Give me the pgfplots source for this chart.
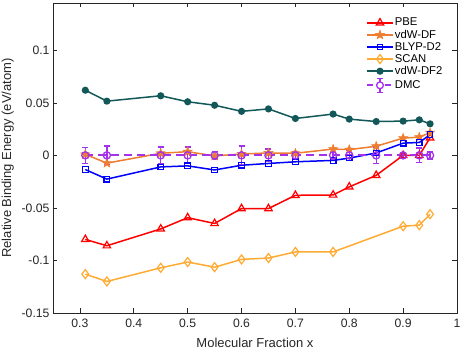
\documentclass[border=0pt]{standalone}
\usepackage{fontspec}
\setmainfont{Liberation Sans}
\usepackage{pgfplots}
\pgfplotsset{compat=1.18}
\definecolor{pbe}{RGB}{255,0,0}
\definecolor{vdwdf}{RGB}{237,125,49}
\definecolor{blyp}{RGB}{0,0,255}
\definecolor{scan}{RGB}{255,170,50}
\definecolor{vdwdftwo}{RGB}{18,88,88}
\definecolor{dmc}{RGB}{165,50,235}
% filled five-pointed star
\pgfdeclareplotmark{fstar}{%
  \pgfpathmoveto{\pgfpointpolar{90}{\pgfplotmarksize}}%
  \pgfpathlineto{\pgfpointpolar{126}{0.42\pgfplotmarksize}}%
  \pgfpathlineto{\pgfpointpolar{162}{\pgfplotmarksize}}%
  \pgfpathlineto{\pgfpointpolar{198}{0.42\pgfplotmarksize}}%
  \pgfpathlineto{\pgfpointpolar{234}{\pgfplotmarksize}}%
  \pgfpathlineto{\pgfpointpolar{270}{0.42\pgfplotmarksize}}%
  \pgfpathlineto{\pgfpointpolar{306}{\pgfplotmarksize}}%
  \pgfpathlineto{\pgfpointpolar{342}{0.42\pgfplotmarksize}}%
  \pgfpathlineto{\pgfpointpolar{18}{\pgfplotmarksize}}%
  \pgfpathlineto{\pgfpointpolar{54}{0.42\pgfplotmarksize}}%
  \pgfpathclose
  \pgfusepathqfillstroke}
\pgfplotstableread{
x     dmc  err
0.31  0    0.0077
0.35  0    0.009
0.45  0    0.008
0.5   0    0.008
0.55  0    0.0035
0.6   0    0.009
0.65  0    0.006
0.7   0    0.0035
0.77  0    0.004
0.8   0    0.005
0.85  0    0.008
0.9   0    0.003
0.93  0    0.007
0.95  0    0.0035
}\dmctable
\begin{document}
\begin{tikzpicture}
\useasboundingbox (0,0) rectangle (467pt,350pt);
\begin{axis}[
  at={(53pt,37pt)}, anchor=south west,
  scale only axis,
  width=404pt, height=310pt,
  xmin=0.25, xmax=1, ymin=-0.15, ymax=0.145,
  xtick={0.3,0.4,...,0.9,1},
  ytick={-0.15,-0.1,-0.05,0,0.05,0.1},
  yticklabels={-0.15,-0.1,-0.05,0,0.05,0.1},
  xticklabels={0.3,0.4,0.5,0.6,0.7,0.8,0.9,1},
  tick align=inside,
  major tick length=4.5pt,
  tick style={black!85, line width=0.6pt},
  axis line style={black!85, line width=0.6pt},
  tick label style={font=\fontsize{12.2}{14}\selectfont, text=black!85},
  xticklabel style={yshift=-2.5pt},
  label style={font=\fontsize{13}{15}\selectfont, text=black!85},
  xlabel={Molecular Fraction x},
  ylabel={Relative Binding Energy (eV/atom)},
  xlabel style={at={(axis description cs:0.5,-0.095)}, anchor=center},
  ylabel style={at={(axis description cs:-0.112,0.5)}, anchor=center},
  legend style={draw=none, fill=none, at={(axis description cs:0.772,0.958)}, anchor=north west,
    font=\fontsize{11.3}{13}\selectfont, row sep=0.6pt, inner sep=1pt,
    nodes={inner sep=1pt}},
  legend cell align=left,
  legend image code/.code={\draw[mark repeat=2, mark phase=2]
    plot coordinates {(0pt,0pt) (13pt,0pt) (26pt,0pt)};},
]
\addplot[color=pbe, line width=1.5pt, mark=triangle, mark size=4.3pt, mark options={fill=none, line width=1.2pt}] coordinates {
 (0.31,-0.080) (0.35,-0.086) (0.45,-0.070) (0.5,-0.0593) (0.55,-0.0648) (0.6,-0.0506)
 (0.65,-0.0506) (0.7,-0.038) (0.77,-0.0377) (0.8,-0.030) (0.85,-0.019) (0.9,0.0)
 (0.93,0.0) (0.95,0.0167)};
\addlegendentry{PBE}
\addplot[color=vdwdf, line width=1.5pt, mark=fstar, mark size=4.8pt, mark options={fill=vdwdf, line width=0.5pt}] coordinates {
 (0.31,0.001) (0.35,-0.0074) (0.45,0.002) (0.5,0.0035) (0.55,-0.0005) (0.6,0.0013)
 (0.65,0.0023) (0.7,0.002) (0.77,0.006) (0.8,0.0055) (0.85,0.0087) (0.9,0.0164)
 (0.93,0.0174) (0.95,0.0216)};
\addlegendentry{vdW-DF}
\addplot[color=blyp, line width=1.5pt, mark=square, mark size=2.8pt, mark options={fill=none, line width=1.2pt}] coordinates {
 (0.31,-0.0135) (0.35,-0.0226) (0.45,-0.011) (0.5,-0.010) (0.55,-0.0139) (0.6,-0.0094)
 (0.65,-0.0077) (0.7,-0.0061) (0.77,-0.0048) (0.8,-0.0026) (0.85,0.0023) (0.9,0.0116)
 (0.93,0.0123) (0.95,0.0197)};
\addlegendentry{BLYP-D2}
\addplot[color=scan, line width=1.5pt, mark=diamond, mark size=4.5pt, mark options={fill=none, line width=1.2pt}] coordinates {
 (0.31,-0.113) (0.35,-0.120) (0.45,-0.107) (0.5,-0.1015) (0.55,-0.1064) (0.6,-0.099)
 (0.65,-0.0977) (0.7,-0.0919) (0.77,-0.0919) (0.9,-0.0674) (0.93,-0.0664) (0.95,-0.056)};
\addlegendentry{SCAN}
\addplot[color=vdwdftwo, line width=1.5pt, mark=*, mark size=2.8pt] coordinates {
 (0.31,0.062) (0.35,0.0516) (0.45,0.0567) (0.5,0.051) (0.55,0.0477) (0.6,0.0419)
 (0.65,0.0442) (0.7,0.0351) (0.77,0.0393) (0.8,0.0345) (0.85,0.0322) (0.9,0.0326)
 (0.93,0.0338) (0.95,0.030)};
\addlegendentry{vdW-DF2}
% DMC error bars only
\addplot[forget plot, draw=none, mark=none, color=dmc,
  error bars/.cd, y dir=both, y explicit,
  error bar style={color=dmc, solid, line width=1.3pt},
  error mark options={color=dmc, rotate=90, mark size=3pt, line width=1.3pt}]
  table[x=x, y=dmc, y error=err] {\dmctable};
% DMC dashed line and circles
\addplot[draw=dmc, line width=1.8pt, dash pattern=on 8pt off 5pt, mark=o, mark size=3.6pt,
  mark options={draw=dmc, solid, fill=none, line width=1.3pt},
  legend image code/.code={
    \draw[draw=dmc, line width=1.8pt, dash pattern=on 6pt off 3pt] (0pt,0pt) -- (26pt,0pt);
    \draw[draw=dmc, solid, line width=1.3pt] (13pt,-7pt) -- (13pt,7pt) (10pt,-7pt) -- (16pt,-7pt) (10pt,7pt) -- (16pt,7pt);
    \draw[draw=dmc, solid, line width=1.3pt, fill=white] (13pt,0pt) circle (3.4pt);}]
  table[x=x, y=dmc] {\dmctable};
\addlegendentry{DMC}
\end{axis}
\end{tikzpicture}
\end{document}
